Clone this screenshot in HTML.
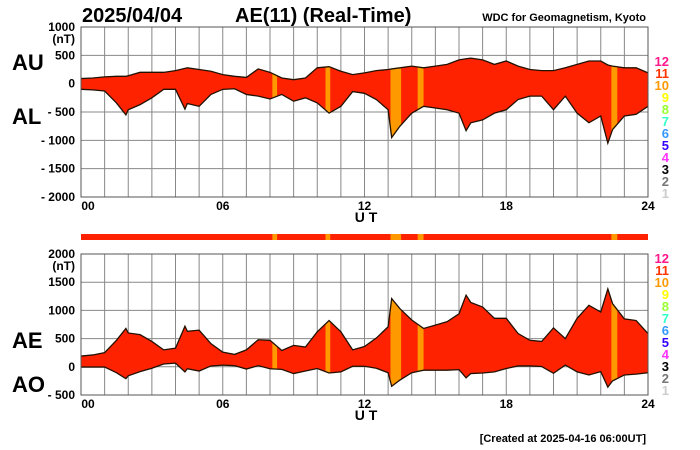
<!DOCTYPE html>
<html><head><meta charset="utf-8"><style>
html,body{margin:0;padding:0;background:#fff;}
svg{display:block;font-family:"Liberation Sans",Arial,sans-serif;}
</style></head><body>
<svg id="chart" width="700" height="450" viewBox="0 0 700 450">
<text x="82" y="22" font-size="20" font-weight="bold">2025/04/04</text>
<text x="235" y="22" font-size="20" font-weight="bold">AE(11) (Real-Time)</text>
<text x="646" y="21" font-size="11" font-weight="bold" text-anchor="end">WDC for Geomagnetism, Kyoto</text>
<text x="12" y="70" font-size="22" font-weight="bold">AU</text>
<text x="12" y="124" font-size="22" font-weight="bold">AL</text>
<text x="12" y="348" font-size="22" font-weight="bold">AE</text>
<text x="12" y="392" font-size="22" font-weight="bold">AO</text>
<text x="646" y="442" font-size="11" font-weight="bold" text-anchor="end">[Created at 2025-04-16 06:00UT]</text>
<g id="top"></g>
<g id="bar"></g>
<g id="bot"></g>
<g id="leg"></g>
</svg>
<script>
const hours = [0,0.5,1,1.5,1.9,2,2.5,3,3.5,4,4.4,4.5,5,5.5,6,6.5,7,7.5,8,8.5,9,9.5,10,10.5,11,11.5,12,12.5,13,13.15,13.5,14,14.5,15,15.5,16,16.3,16.5,17,17.5,18,18.5,19,19.5,20,20.5,21,21.5,22,22.3,22.5,23,23.5,24];
const auValues = [90,100,120,130,130,140,200,200,200,230,270,280,250,220,160,130,110,260,200,100,70,100,280,300,220,160,190,230,250,260,280,310,280,310,340,420,440,450,420,340,400,310,250,230,230,280,340,400,400,330,310,280,280,190];
const alValues = [-100,-110,-130,-340,-550,-460,-370,-250,-100,-100,-450,-350,-400,-190,-100,-90,-190,-220,-270,-190,-310,-250,-340,-520,-400,-140,-170,-280,-460,-950,-750,-520,-400,-430,-460,-520,-830,-690,-640,-520,-460,-280,-220,-220,-460,-220,-520,-690,-570,-1050,-810,-570,-540,-400];
const bandStarts = [8.1,10.35,13.1,14.25,22.45];
const bandEnds = [8.3,10.55,13.55,14.5,22.7];
const topTicks = [1000,500,0,-500,-1000,-1500,-2000];
const botTicks = [2000,1500,1000,500,0,-500];
const xTickLabels = ["00","06","12","18","24"];
const legendLabels = ["12","11","10","9","8","7","6","5","4","3","2","1"];
const legendColors = ["#ff1a8c","#ff3300","#ff9900","#ffff00","#99ff33","#33ffcc","#3399ff","#3300ff","#ff33ff","#000000","#777777","#cccccc"];

const NS="http://www.w3.org/2000/svg";
const X0=81,X1=648;
const xs=h=>X0+(X1-X0)*h/24;
function mk(parent,tag,attrs,name,txt){const e=document.createElementNS(NS,tag);for(const k in attrs)e.setAttribute(k,attrs[k]);


if(txt!==undefined)e.textContent=txt;parent.appendChild(e);return e;}

function panel(g,id,yTop,yBot,vTop,vBot,ticks,upper,lower){
  const ys=v=>yTop+(vTop-v)/(vTop-vBot)*(yBot-yTop);
  for(let h=0;h<=24;h++) mk(g,'line',{x1:xs(h),x2:xs(h),y1:yTop,y2:yBot,stroke:'#888','stroke-width':1},id+'-vgrid');
  ticks.forEach((t,i)=>{
    mk(g,'line',{x1:X0,x2:X1,y1:ys(t),y2:ys(t),stroke:'#888','stroke-width':1},id+'-hgrid');
    const lab=t<0?'- '+(-t):String(t);
    mk(g,'text',{x:75,y:ys(t)+4,'font-size':12,'font-weight':'bold','text-anchor':'end'},id+'-y-tick',lab);
  });
  mk(g,'text',{x:75,y:ys(ticks[0])+16,'font-size':12,'font-weight':'bold','text-anchor':'end'},id+'-y-unit','(nT)');
  let d='M'+hours.map((h,i)=>xs(h)+','+ys(upper[i])).join('L');
  for(let i=hours.length-1;i>=0;i--) d+='L'+xs(hours[i])+','+ys(lower[i]);
  d+='Z';
  const cp=mk(g,'clipPath',{id:id+'clip'},id+'-clip');
  mk(cp,'path',{d:d},id+'-clip-path');
  mk(g,'path',{d:d,fill:'#ff2200'},id+'-area');
  bandStarts.forEach((s,i)=>mk(g,'rect',{x:xs(s),y:yTop,width:xs(bandEnds[i])-xs(s),height:yBot-yTop,fill:'#ff9900','clip-path':'url(#'+id+'clip)'},id+'-band'));
  mk(g,'polyline',{points:hours.map((h,i)=>xs(h)+','+ys(upper[i])).join(' '),fill:'none',stroke:'#221100','stroke-width':1.3},id+'-upper-line');
  mk(g,'polyline',{points:hours.map((h,i)=>xs(h)+','+ys(lower[i])).join(' '),fill:'none',stroke:'#221100','stroke-width':1.3},id+'-lower-line');
  mk(g,'rect',{x:X0,y:yTop,width:X1-X0,height:yBot-yTop,fill:'none',stroke:'#555','stroke-width':1},id+'-frame');
  xTickLabels.forEach((l,i)=>mk(g,'text',{x:xs(i*6)+(i==0?7:0),y:yBot+13,'font-size':12,'font-weight':'bold','text-anchor':'middle'},id+'-x-tick',l));
  mk(g,'text',{x:366,y:yBot+25,'font-size':14,'font-weight':'bold','text-anchor':'middle'},id+'-x-title','U T');
}
panel(document.getElementById('top'),'top',27,197,1000,-2000,topTicks,auValues,alValues);
const aeValues=auValues.map((u,i)=>u-alValues[i]);
const aoValues=auValues.map((u,i)=>(u+alValues[i])/2);
panel(document.getElementById('bot'),'bot',254,395,2000,-500,botTicks,aeValues,aoValues);

const bar=document.getElementById('bar');
mk(bar,'rect',{x:X0,y:234,width:X1-X0,height:6,fill:'#ff2200'},'station-bar');
bandStarts.forEach((s,i)=>mk(bar,'rect',{x:xs(s),y:234,width:xs(bandEnds[i])-xs(s),height:6,fill:'#ff9900'},'station-bar-band'));

const leg=document.getElementById('leg');
[66,263].forEach((y0,p)=>legendLabels.forEach((l,i)=>mk(leg,'text',{x:669,y:y0+i*12,'font-size':13,'font-weight':'bold',fill:legendColors[i],'text-anchor':'end'},'legend-station-count',l)));
</script>
</body></html>
